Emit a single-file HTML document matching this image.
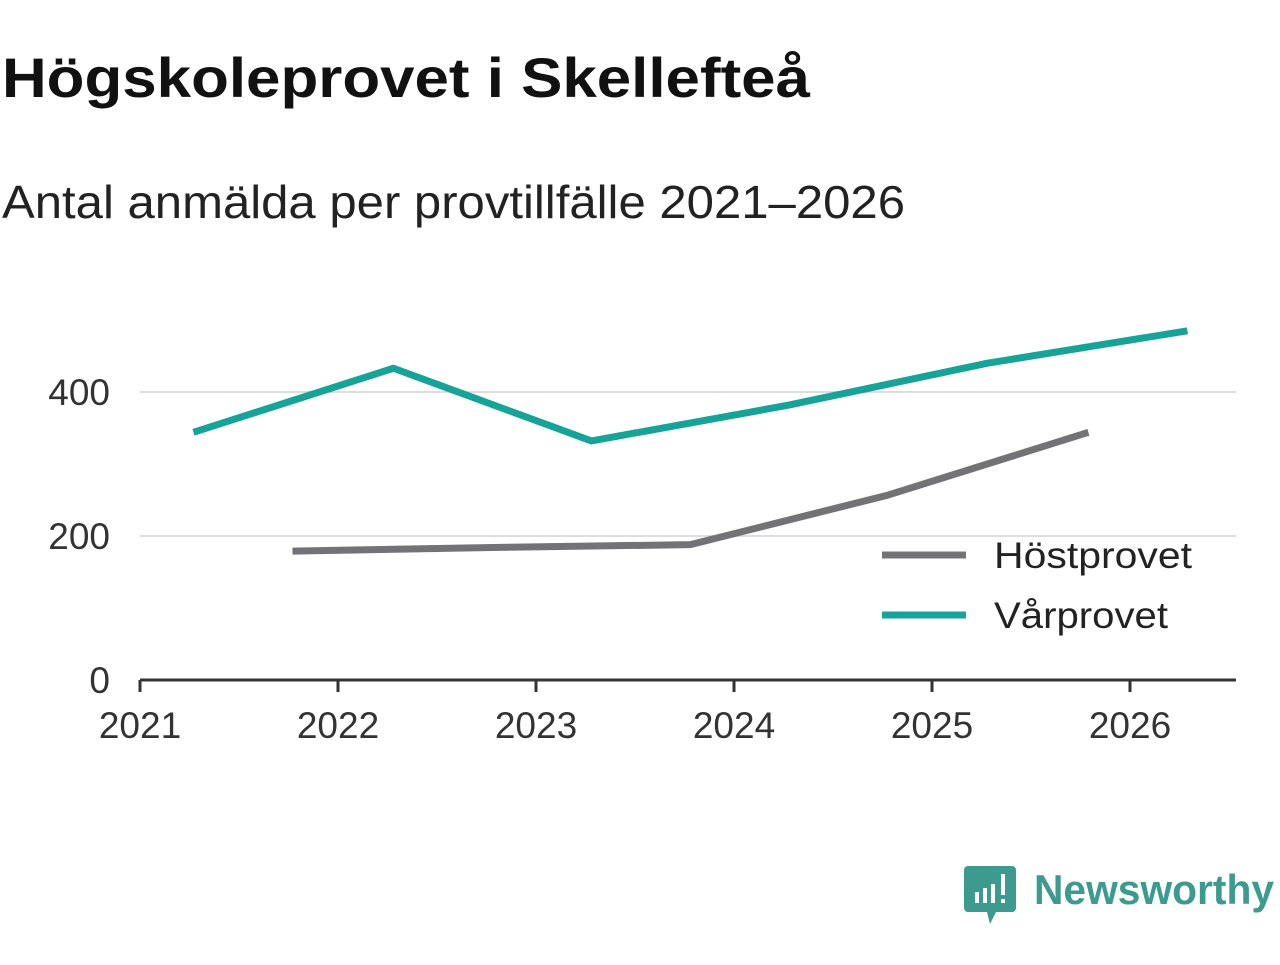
<!DOCTYPE html>
<html><head><meta charset="utf-8"><style>
body{margin:0;width:1280px;height:960px;background:#fff;font-family:"Liberation Sans","DejaVu Sans",sans-serif;overflow:hidden}
</style></head><body>
<svg width="1280" height="960">
<text x="2" y="97" font-size="56" font-weight="bold" fill="#111" textLength="808" lengthAdjust="spacingAndGlyphs">Högskoleprovet i Skellefteå</text>
<text x="2" y="218" font-size="46" fill="#222" textLength="903" lengthAdjust="spacingAndGlyphs">Antal anmälda per provtillfälle 2021–2026</text>
<g id="plot"></g>
<g>
<line x1="882" y1="555" x2="966" y2="555" stroke="#737277" stroke-width="7"/>
<text x="994" y="568" font-size="37" fill="#222" textLength="198" lengthAdjust="spacingAndGlyphs">Höstprovet</text>
<line x1="882" y1="615" x2="966" y2="615" stroke="#17a398" stroke-width="7"/>
<text x="994" y="628" font-size="37" fill="#222" textLength="174" lengthAdjust="spacingAndGlyphs">Vårprovet</text>
</g>
<g>
<path d="M968 866 h44 a4 4 0 0 1 4 4 v38 a4 4 0 0 1 -4 4 h-16 l-6 12 l-3 -12 h-19 a4 4 0 0 1 -4 -4 v-38 a4 4 0 0 1 4 -4z" fill="#3d9a8f"/>
<rect x="975" y="892" width="4" height="11" fill="#fff"/><rect x="983" y="888" width="4" height="15" fill="#fff"/><rect x="991" y="884" width="4" height="19" fill="#fff"/><rect x="1001" y="874" width="4" height="21" fill="#fff"/><rect x="1001" y="899" width="4" height="4" fill="#fff"/>
<text x="1034" y="904" font-size="42" font-weight="bold" fill="#3d9a8f" textLength="240" lengthAdjust="spacingAndGlyphs">Newsworthy</text>
</g>
</svg>
<script>
const years=[2021,2022,2023,2024,2025,2026];
const yTicks=[0,200,400];
const springX=[2021.27,2022.28,2023.28,2024.28,2025.28,2026.29];
const springV=[344,433,332,382,440,485];
const autumnX=[2021.77,2022.78,2023.78,2024.78,2025.79];
const autumnV=[179,184,188,257,344];
const NS="http://www.w3.org/2000/svg";
const g=document.getElementById('plot');
const xs=v=>140+(v-2021)*198, ys=v=>680-v*0.72;
function el(t,a){const e=document.createElementNS(NS,t);for(const k in a)e.setAttribute(k,a[k]);g.appendChild(e);return e;}
yTicks.forEach(t=>{
 if(t>0){const l=el('line',{x1:140,x2:1236,y1:ys(t),y2:ys(t),stroke:'#ddd','stroke-width':2});
 
 }
 const tx=el('text',{x:110,y:ys(t)+13,'font-size':37,fill:'#333','text-anchor':'end'});tx.textContent=t;
 
 
});
const ax=el('line',{x1:140,x2:1236,y1:680,y2:680,stroke:'#333','stroke-width':3});


years.forEach(y=>{
 const tk=el('line',{x1:xs(y),x2:xs(y),y1:680,y2:692,stroke:'#333','stroke-width':3});
 
 
 const tx=el('text',{x:xs(y),y:738,'font-size':37,fill:'#333','text-anchor':'middle'});tx.textContent=y;
 
 
});
function line(X,V,c,n){const p=el('polyline',{points:X.map((x,i)=>xs(x)+','+ys(V[i])).join(' '),fill:'none',stroke:c,'stroke-width':7,'stroke-linejoin':'round'});
 
 }
line(autumnX,autumnV,'#737277','line-hostprovet');
line(springX,springV,'#17a398','line-varprovet');
</script>
</body></html>
